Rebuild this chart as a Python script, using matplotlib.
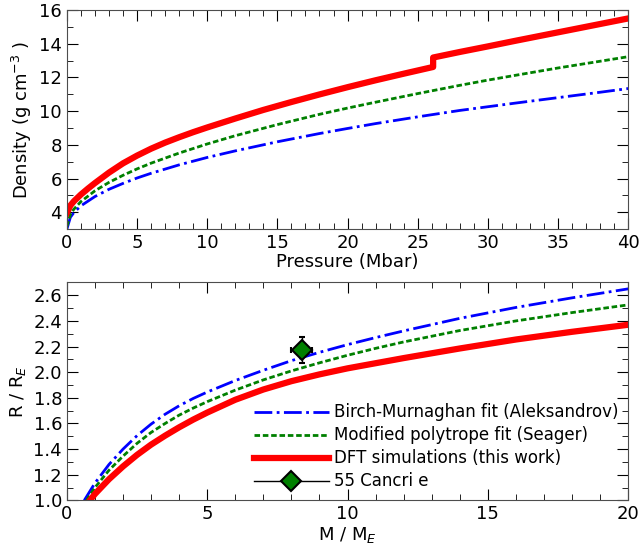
import matplotlib

matplotlib.use("Agg")
import matplotlib.pyplot as plt
from matplotlib.lines import Line2D
from matplotlib.ticker import MultipleLocator

# --- density vs pressure ---
p_bm = [0, 0.25, 0.5, 1, 2, 3, 4, 5, 6, 8, 10, 12, 15, 18, 20, 22, 25, 28, 30, 32, 35, 38, 40]
rho_bm = [3.0, 3.7, 3.98, 4.38, 4.93, 5.36, 5.71, 6.03, 6.31, 6.81, 7.25, 7.64, 8.18, 8.67,
          8.97, 9.26, 9.66, 10.04, 10.26, 10.48, 10.8, 11.12, 11.34]

p_poly = [0, 0.25, 0.5, 1, 2, 3, 4, 5, 6, 8, 10, 12, 15, 18, 20, 22, 25, 28, 30, 32, 35, 38, 40]
rho_poly = [3.15, 3.87, 4.18, 4.63, 5.27, 5.77, 6.19, 6.57, 6.91, 7.51, 8.05, 8.54, 9.2, 9.81,
            10.18, 10.53, 11.04, 11.53, 11.84, 12.13, 12.56, 12.96, 13.23]

p_dft = [0, 0.25, 0.5, 1, 1.5, 2, 3, 4, 5, 6, 7, 8, 9, 10, 12, 14, 16, 18, 20, 22, 24, 26.1,
         26.1, 28, 30, 32, 34, 36, 38, 40]
rho_dft = [3.95, 4.4, 4.65, 5.05, 5.4, 5.73, 6.35, 6.9, 7.36, 7.77, 8.13, 8.45, 8.75, 9.03,
           9.56, 10.07, 10.54, 10.99, 11.42, 11.83, 12.22, 12.62,
           13.18, 13.51, 13.84, 14.18, 14.51, 14.84, 15.17, 15.5]

# --- mass-radius ---
m_bm = [0.62, 1, 1.5, 2, 2.5, 3, 3.5, 4, 4.5, 5, 6, 7, 8, 9, 10, 11, 12, 14, 16, 18, 20]
r_bm = [1.0, 1.135, 1.28, 1.40, 1.505, 1.595, 1.672, 1.738, 1.795, 1.845, 1.935, 2.015, 2.09,
        2.155, 2.215, 2.27, 2.322, 2.42, 2.505, 2.58, 2.65]

m_poly = [0.70, 1, 1.5, 2, 2.5, 3, 3.5, 4, 4.5, 5, 6, 7, 8, 9, 10, 11, 12, 14, 16, 18, 20]
r_poly = [1.0, 1.10, 1.235, 1.345, 1.445, 1.53, 1.60, 1.665, 1.72, 1.77, 1.86, 1.94, 2.01,
          2.073, 2.132, 2.186, 2.236, 2.325, 2.40, 2.465, 2.525]

m_dft = [0.82, 1, 1.5, 2, 2.5, 3, 3.5, 4, 4.5, 5, 6, 7, 8, 9, 10, 11, 12, 14, 16, 18, 20]
r_dft = [1.0, 1.05, 1.165, 1.265, 1.355, 1.435, 1.505, 1.57, 1.63, 1.685, 1.785, 1.865, 1.93,
         1.983, 2.03, 2.07, 2.11, 2.185, 2.255, 2.315, 2.37]

# 55 Cancri e
cnc_m, cnc_merr = 8.37, 0.38
cnc_r, cnc_rerr = 2.173, 0.098

labels = ["Birch-Murnaghan fit (Aleksandrov)", "Modified polytrope fit (Seager)",
          "DFT simulations (this work)", "55 Cancri e"]

bm_kw = dict(color="blue", lw=2, ls="-.")
poly_kw = dict(color="green", lw=2, ls=(0, (2, 1)))
dft_kw = dict(color="red", lw=4.5, ls="-")
pt_kw = dict(marker="D", color="black", mfc="green", mec="black", mew=1.5, ms=10, lw=1)


def style_axes(ax):
    ax.tick_params(which="both", direction="in", top=True, right=True, labelsize=13)
    ax.tick_params(which="major", length=8)
    ax.tick_params(which="minor", length=4)
    for s in ax.spines.values():
        s.set_color("0.3")


fig = plt.figure(figsize=(6.43, 5.56), dpi=100)
ax1 = fig.add_axes([0.104, 0.588, 0.873, 0.394])
ax2 = fig.add_axes([0.104, 0.100, 0.873, 0.392])

ax1.plot(p_bm, rho_bm, **bm_kw)
ax1.plot(p_poly, rho_poly, **poly_kw)
ax1.plot(p_dft, rho_dft, **dft_kw)
ax1.set_xlim(0, 40)
ax1.set_ylim(3, 16)
ax1.xaxis.set_major_locator(MultipleLocator(5))
ax1.xaxis.set_minor_locator(MultipleLocator(1))
ax1.yaxis.set_major_locator(MultipleLocator(2))
ax1.yaxis.set_minor_locator(MultipleLocator(1))
ax1.set_xlabel("Pressure (Mbar)", fontsize=13, labelpad=1)
ax1.set_ylabel(r"Density (g cm$^{-3}$ )", fontsize=13)
style_axes(ax1)

h1, = ax2.plot(m_bm, r_bm, **bm_kw)
h2, = ax2.plot(m_poly, r_poly, **poly_kw)
h3, = ax2.plot(m_dft, r_dft, **dft_kw)
ax2.errorbar(cnc_m, cnc_r, xerr=cnc_merr, yerr=cnc_rerr, fmt="D", color="black",
             mfc="green", mec="black", mew=1.5, ms=10, lw=1, capsize=2, zorder=5)
h4 = Line2D([], [], **pt_kw)
ax2.set_xlim(0, 20)
ax2.set_ylim(1.0, 2.7)
ax2.xaxis.set_major_locator(MultipleLocator(5))
ax2.xaxis.set_minor_locator(MultipleLocator(1))
ax2.yaxis.set_major_locator(MultipleLocator(0.2))
ax2.yaxis.set_minor_locator(MultipleLocator(0.1))
ax2.set_xlabel(r"M / M$_E$", fontsize=13, labelpad=1)
ax2.set_ylabel(r"R / R$_E$", fontsize=13)
style_axes(ax2)
ax2.legend([h1, h2, h3, h4], labels, loc="lower right", frameon=False, fontsize=12,
           handlelength=4.5, labelspacing=0.3, handletextpad=0.3, borderaxespad=0.2,
           numpoints=1)

fig.savefig("out.png", dpi=100)
plt.close(fig)
